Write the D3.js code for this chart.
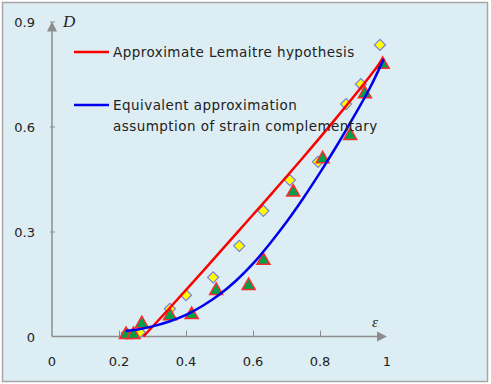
<!DOCTYPE html>
<html>
<head>
<meta charset="utf-8">
<script src="https://cdn.jsdelivr.net/npm/d3@7"></script>
<style>
  body { margin: 0; background: #fff; }
  text { font-family: "DejaVu Sans", Verdana, sans-serif; }
</style>
</head>
<body>
<div id="chart"></div>
<script>
// data
let diamondEps = [0.223, 0.262, 0.352, 0.400, 0.481, 0.559, 0.631, 0.710, 0.794, 0.878, 0.922, 0.979]
let diamondD = [0.009, 0.012, 0.079, 0.118, 0.169, 0.259, 0.359, 0.447, 0.499, 0.664, 0.721, 0.833]

let triangleEps = [0.221, 0.243, 0.268, 0.352, 0.417, 0.490, 0.587, 0.631, 0.720, 0.808, 0.890, 0.934, 0.987]
let triangleD = [0.007, 0.007, 0.038, 0.061, 0.064, 0.133, 0.147, 0.219, 0.414, 0.509, 0.576, 0.695, 0.779]

let lemaitreEps = [0.273, 0.35, 0.45, 0.55, 0.65, 0.75, 0.85, 0.95, 0.99]
let lemaitreD = [0.0, 0.080, 0.186, 0.294, 0.402, 0.512, 0.626, 0.745, 0.795]

let equivEps = [0.22, 0.26, 0.30, 0.35, 0.40, 0.45, 0.50, 0.55, 0.60, 0.65, 0.70, 0.75, 0.80, 0.85, 0.90, 0.95, 0.99]
let equivD = [0.016, 0.021, 0.029, 0.043, 0.062, 0.088, 0.120, 0.160, 0.208, 0.265, 0.327, 0.395, 0.468, 0.545, 0.627, 0.712, 0.792]

let xTicks = [0, 0.2, 0.4, 0.6, 0.8, 1]
let xTickLabels = ['0', '0.2', '0.4', '0.6', '0.8', '1']
let yTicks = [0, 0.3, 0.6, 0.9]
let yTickLabels = ['0', '0.3', '0.6', '0.9']

let legendLabels = [
  ['Approximate Lemaitre hypothesis'],
  ['Equivalent approximation', 'assumption of strain complementary']
]

let width = 491
let height = 384

let svg = d3.select('#chart')
  .append('svg')
  .attr('width', width)
  .attr('height', height)

// chart area background
svg.append('rect')
  .attr('x', 2.5)
  .attr('y', 2.5)
  .attr('width', 485)
  .attr('height', 379)
  .attr('fill', '#dcedf4')
  .attr('stroke', '#a6a6a6')
  .attr('stroke-width', 1.5)

let xPositionScale = d3.scaleLinear().domain([0, 1]).range([52, 387])
let yPositionScale = d3.scaleLinear().domain([0, 0.9]).range([336.5, 21.5])

// axes
let axisColor = '#8c8c8c'

let xAxis = d3.axisTop(xPositionScale)
  .tickValues(xTicks.slice(1, 5))
  .tickSize(6)
  .tickFormat('')
let yAxis = d3.axisRight(yPositionScale)
  .tickValues(yTicks.slice(1))
  .tickSize(5)
  .tickFormat('')

let gx = svg.append('g')
  .attr('transform', `translate(0,${yPositionScale(0)})`)
  .call(xAxis)
gx.select('.domain').remove()
gx.selectAll('line').attr('stroke', axisColor)

let gy = svg.append('g')
  .attr('transform', `translate(${xPositionScale(0)},0)`)
  .call(yAxis)
gy.select('.domain').remove()
gy.selectAll('line').attr('stroke', axisColor).attr('transform', 'translate(-2,0)')

// axis lines with arrows
svg.append('line')
  .attr('x1', xPositionScale(0))
  .attr('y1', yPositionScale(0))
  .attr('x2', xPositionScale(1) - 8)
  .attr('y2', yPositionScale(0))
  .attr('stroke', axisColor)
  .attr('stroke-width', 1.5)
svg.append('path')
  .attr('d', `M${xPositionScale(1) - 10},${yPositionScale(0) - 5} L${xPositionScale(1)},${yPositionScale(0)} L${xPositionScale(1) - 10},${yPositionScale(0) + 5} Z`)
  .attr('fill', axisColor)

svg.append('line')
  .attr('x1', xPositionScale(0))
  .attr('y1', yPositionScale(0))
  .attr('x2', xPositionScale(0))
  .attr('y2', yPositionScale(0.9) + 8)
  .attr('stroke', axisColor)
  .attr('stroke-width', 1.5)
svg.append('path')
  .attr('d', `M${xPositionScale(0) - 5},${yPositionScale(0.9) + 10} L${xPositionScale(0)},${yPositionScale(0.9)} L${xPositionScale(0) + 5},${yPositionScale(0.9) + 10} Z`)
  .attr('fill', axisColor)

// tick labels
svg.selectAll('.x-label')
  .data(xTicks)
  .enter()
  .append('text')
  .attr('class', 'x-label')
  .attr('x', d => xPositionScale(d))
  .attr('y', 366)
  .attr('text-anchor', 'middle')
  .attr('font-size', 13)
  .attr('fill', '#222')
  .text((d, i) => xTickLabels[i])

svg.selectAll('.y-label')
  .data(yTicks)
  .enter()
  .append('text')
  .attr('class', 'y-label')
  .attr('x', 35)
  .attr('y', d => yPositionScale(d) + 5)
  .attr('text-anchor', 'end')
  .attr('font-size', 13)
  .attr('fill', '#222')
  .text((d, i) => yTickLabels[i])

// axis titles
svg.append('text')
  .attr('x', 63)
  .attr('y', 27)
  .attr('font-size', 17)
  .attr('font-style', 'italic')
  .style('font-family', '"Liberation Serif", "Times New Roman", serif')
  .attr('fill', '#222')
  .text('D')

svg.append('text')
  .attr('x', 372)
  .attr('y', 327)
  .attr('font-size', 15)
  .attr('font-style', 'italic')
  .style('font-family', '"Liberation Serif", "Times New Roman", serif')
  .attr('fill', '#222')
  .text('ε')

// markers
let diamondData = diamondEps.map((e, i) => ({ e: e, d: diamondD[i] }))
let triangleData = triangleEps.map((e, i) => ({ e: e, d: triangleD[i] }))

svg.selectAll('.diamond')
  .data(diamondData)
  .enter()
  .append('path')
  .attr('class', 'diamond')
  .attr('d', 'M0,-5.5 L5.5,0 L0,5.5 L-5.5,0 Z')
  .attr('transform', d => `translate(${xPositionScale(d.e)},${yPositionScale(d.d)})`)
  .attr('fill', '#ffff00')
  .attr('stroke', '#7b7bdc')
  .attr('stroke-width', 1.2)

svg.selectAll('.triangle')
  .data(triangleData)
  .enter()
  .append('path')
  .attr('class', 'triangle')
  .attr('d', 'M0,-7 L6.5,4.5 L-6.5,4.5 Z')
  .attr('transform', d => `translate(${xPositionScale(d.e)},${yPositionScale(d.d)})`)
  .attr('fill', '#00a04a')
  .attr('stroke', '#ff2a2a')
  .attr('stroke-width', 1.5)

// curves
let line = d3.line()
  .x(d => xPositionScale(d.e))
  .y(d => yPositionScale(d.d))
  .curve(d3.curveMonotoneX)

let lemaitreData = lemaitreEps.map((e, i) => ({ e: e, d: lemaitreD[i] }))
let equivData = equivEps.map((e, i) => ({ e: e, d: equivD[i] }))

svg.append('path')
  .datum(lemaitreData)
  .attr('d', line)
  .attr('fill', 'none')
  .attr('stroke', '#ff0000')
  .attr('stroke-width', 2.5)

svg.append('path')
  .datum(equivData)
  .attr('d', line)
  .attr('fill', 'none')
  .attr('stroke', '#0000ee')
  .attr('stroke-width', 2.5)

// legend
let legendColors = ['#ff0000', '#0000ee']
let legendY = [52, 105]

legendLabels.forEach((lines, i) => {
  svg.append('line')
    .attr('x1', 74)
    .attr('x2', 109)
    .attr('y1', legendY[i])
    .attr('y2', legendY[i])
    .attr('stroke', legendColors[i])
    .attr('stroke-width', 2.5)
  lines.forEach((t, j) => {
    svg.append('text')
      .attr('x', 113)
      .attr('y', legendY[i] + 5 + j * 21)
      .attr('font-size', 13.5)
      .attr('letter-spacing', 0.45)
      .attr('fill', '#222')
      .text(t)
  })
})
</script>
</body>
</html>
